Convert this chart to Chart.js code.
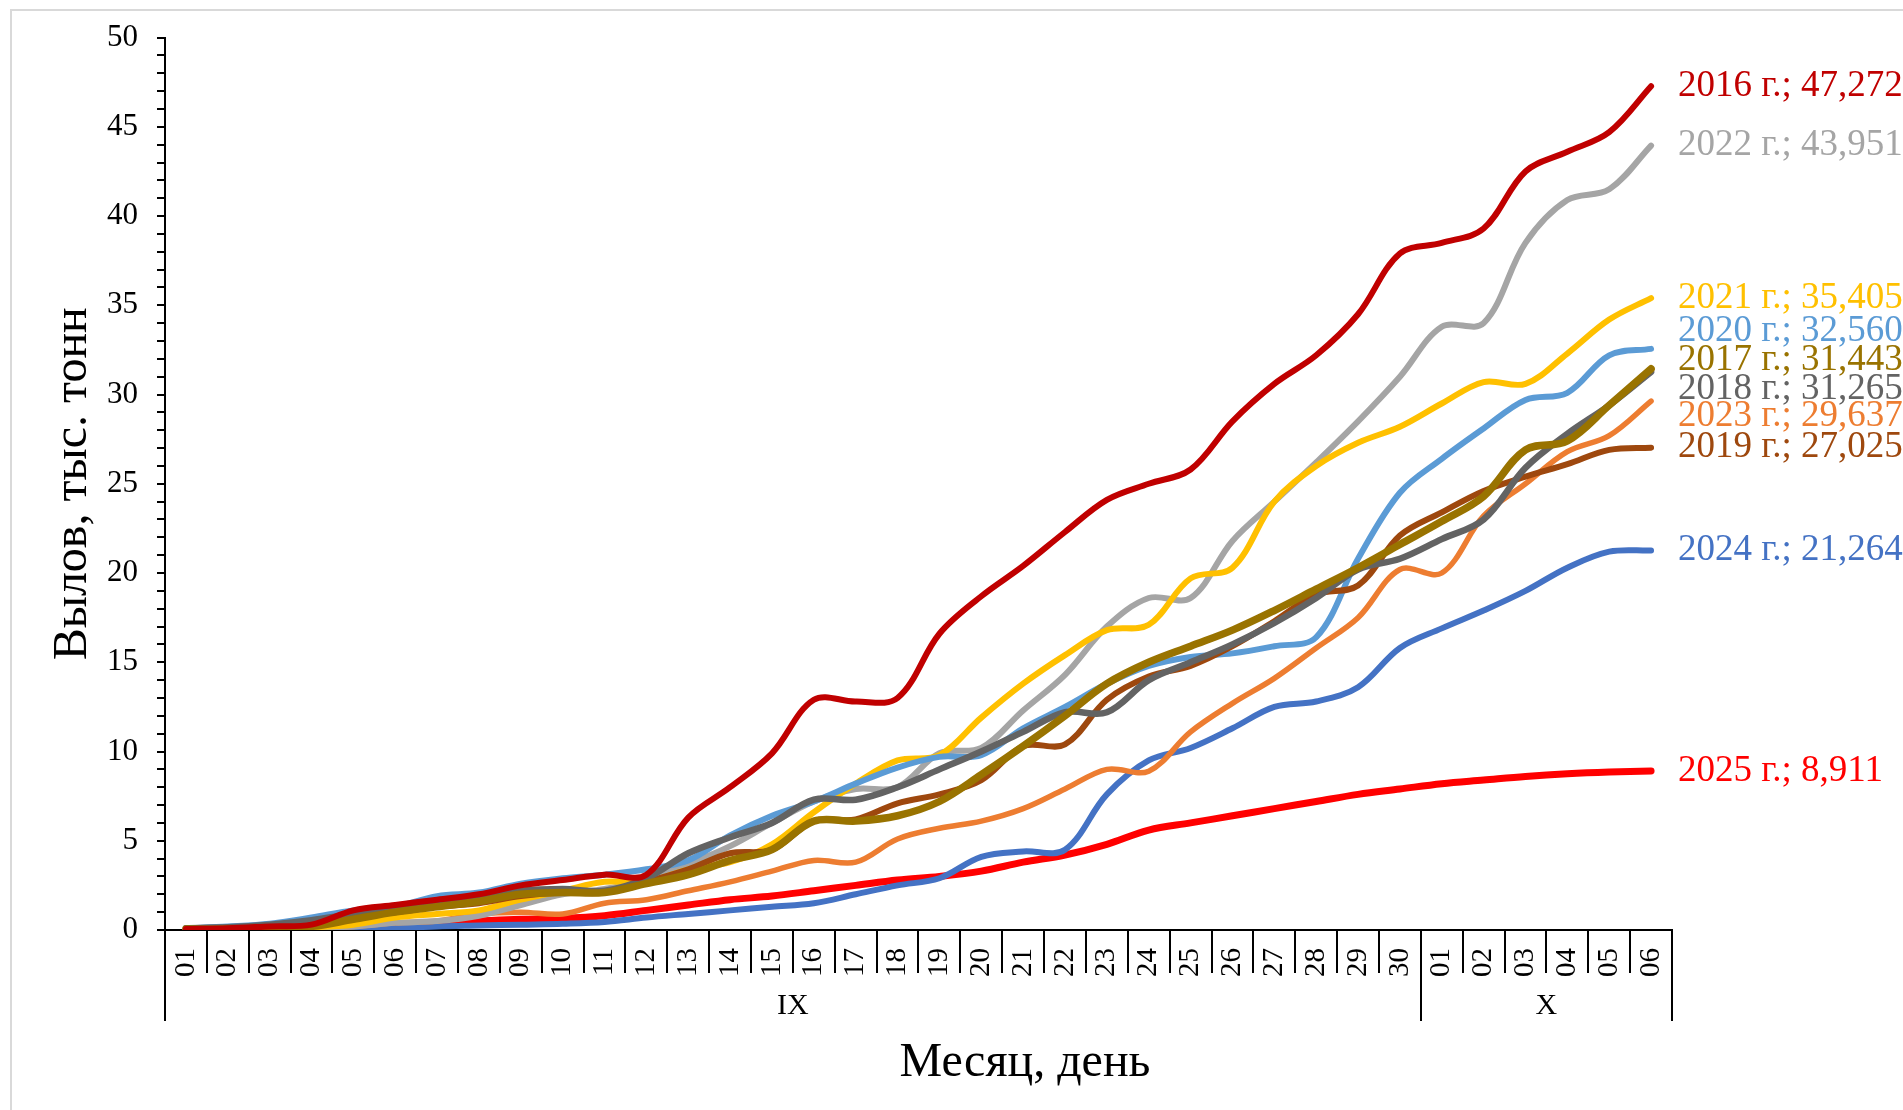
<!DOCTYPE html>
<html>
<head>
<meta charset="utf-8">
<script src="https://cdn.jsdelivr.net/npm/chart.js@4.4.1/dist/chart.umd.min.js"></script>
<style>
html,body{margin:0;padding:0;background:#fff;overflow:hidden}
#wrap{width:1903px;height:1110px;position:relative}
</style>
</head>
<body>
<div id="wrap"><canvas id="c" width="1903" height="1110"></canvas></div>
<script>
// ---------- DATA ----------
const dayLabels = ['01','02','03','04','05','06','07','08','09','10','11','12','13','14','15','16','17','18','19','20','21','22','23','24','25','26','27','28','29','30','01','02','03','04','05','06'];
const monthLabels = ['IX','IX','IX','IX','IX','IX','IX','IX','IX','IX','IX','IX','IX','IX','IX','IX','IX','IX','IX','IX','IX','IX','IX','IX','IX','IX','IX','IX','IX','IX','X','X','X','X','X','X'];
const years = ['2016','2017','2018','2019','2020','2021','2022','2023','2024','2025'];

const y2016 = [0.05,0.1,0.2,0.3,1.1,1.4,1.7,2.0,2.5,2.8,3.1,3.1,6.3,8.0,9.9,12.9,12.8,13.0,16.6,18.7,20.4,22.3,24.1,25.0,25.8,28.5,30.6,32.2,34.5,37.9,38.5,39.3,42.5,43.6,44.7,47.272];
const y2017 = [0.05,0.05,0.1,0.2,0.6,1.0,1.3,1.6,2.0,2.1,2.1,2.6,3.1,3.9,4.5,6.1,6.1,6.4,7.2,8.7,10.3,12.0,13.8,15.0,15.9,16.8,17.9,19.1,20.3,21.6,22.9,24.3,26.9,27.4,29.4,31.443];
const y2018 = [0.1,0.15,0.3,0.55,0.9,1.2,1.5,1.8,2.2,2.3,2.2,2.9,4.3,5.2,6.0,7.3,7.3,8.0,9.0,10.0,11.1,12.2,12.2,14.0,15.0,16.0,17.2,18.6,20.2,20.8,21.9,23.0,25.9,27.8,29.4,31.265];
const y2019 = [0.05,0.1,0.15,0.3,0.8,1.0,1.3,1.5,1.9,2.1,2.1,2.7,3.4,4.3,4.5,6.1,6.2,7.1,7.6,8.4,10.3,10.4,12.9,14.2,14.8,15.9,17.3,18.8,19.3,22.1,23.4,24.6,25.4,26.1,26.9,27.025];
const y2020 = [0.1,0.2,0.35,0.7,1.1,1.3,1.9,2.1,2.6,2.9,3.1,3.4,3.9,5.3,6.4,7.2,8.2,9.1,9.7,9.8,11.3,12.5,13.8,14.8,15.3,15.5,15.9,16.4,20.8,24.5,26.4,28.1,29.7,30.1,32.2,32.560];
const y2021 = [0.0,0.05,0.1,0.15,0.3,0.7,0.9,1.1,1.7,2.2,2.7,2.7,3.4,3.8,4.8,6.6,8.2,9.5,9.8,11.9,13.8,15.4,16.8,17.1,19.7,20.3,24.0,26.0,27.3,28.2,29.5,30.7,30.6,32.3,34.2,35.405];
const y2022 = [0.0,0.0,0.05,0.1,0.2,0.4,0.5,0.8,1.4,2.0,2.3,2.8,3.7,4.7,6.0,7.2,7.9,8.0,9.9,10.2,12.3,14.3,17.0,18.6,18.6,21.8,24.0,26.2,28.5,31.0,33.8,34.0,38.5,40.9,41.5,43.951];
const y2023 = [0.0,0.0,0.05,0.1,0.2,0.4,0.5,0.9,1.0,0.9,1.5,1.7,2.2,2.7,3.3,3.9,3.8,5.1,5.7,6.1,6.8,7.9,9.0,8.9,11.1,12.7,14.1,15.8,17.5,20.2,20.0,23.2,25.0,26.8,27.7,29.637];
const y2024 = [0.0,0.0,0.0,0.02,0.05,0.1,0.2,0.25,0.3,0.35,0.45,0.7,0.9,1.1,1.3,1.5,2.0,2.5,2.9,4.1,4.4,4.5,7.6,9.5,10.2,11.3,12.5,12.8,13.6,15.8,16.9,17.9,19.0,20.3,21.2,21.264];
const y2025 = [0.0,0.02,0.05,0.1,0.2,0.25,0.35,0.5,0.6,0.65,0.8,1.1,1.4,1.7,1.9,2.2,2.5,2.8,3.0,3.3,3.8,4.2,4.8,5.6,6.0,6.4,6.8,7.2,7.6,7.9,8.2,8.4,8.6,8.75,8.85,8.911];

const yTitle = 'Вылов, тыс. тонн';
const xTitle = 'Месяц, день';
const yearSuffix = ' г.; ';

// ---------- STYLE ----------
const seriesValues = [y2016,y2017,y2018,y2019,y2020,y2021,y2022,y2023,y2024,y2025];
const seriesColors = ['#C00000','#997300','#636363','#9E480E','#5B9BD5','#FFC000','#A5A5A5','#ED7D31','#4472C4','#FF0000'];
const seriesWidths = [6,7.5,6.5,6,6,6,6,5.5,6,7];
const SERIF = '"Liberation Serif", "Times New Roman", serif';

const datasets = years.map((yr, i) => ({
  label: yr,
  data: seriesValues[i],
  borderColor: seriesColors[i],
  backgroundColor: seriesColors[i],
  borderWidth: seriesWidths[i],
  pointRadius: 0,
  pointHoverRadius: 0,
  tension: 0.35,
  fill: false,
  borderCapStyle: 'round',
  borderJoinStyle: 'round'
}));

const framePlugin = {
  id: 'frame',
  beforeDraw(chart) {
    const ctx = chart.ctx;
    ctx.save();
    ctx.fillStyle = '#fff';
    ctx.fillRect(0, 0, chart.width, chart.height);
    ctx.strokeStyle = '#D9D9D9';
    ctx.lineWidth = 2;
    ctx.strokeRect(11, 10, chart.width + 50, chart.height + 50);
    ctx.restore();
  }
};

const endLabelPlugin = {
  id: 'endLabels',
  afterDatasetsDraw(chart, args, opts) {
    const ctx = chart.ctx, ys = chart.scales.y;
    ctx.save();
    ctx.font = '37px ' + SERIF;
    ctx.textBaseline = 'middle';
    ctx.textAlign = 'left';
    chart.data.datasets.forEach(ds => {
      const last = ds.data[ds.data.length - 1];
      const y = ys.getPixelForValue(last) + (opts.nudge[ds.label] || 0);
      ctx.fillStyle = ds.borderColor;
      ctx.fillText(ds.label + yearSuffix + last.toFixed(3).replace('.', ','), chart.chartArea.right + 6, y);
    });
    ctx.restore();
  }
};

const multiAxisPlugin = {
  id: 'multiAxis',
  afterDraw(chart, args, opts) {
    const ctx = chart.ctx, xs = chart.scales.x, area = chart.chartArea;
    const n = dayLabels.length;
    const half = (xs.getPixelForValue(1) - xs.getPixelForValue(0)) / 2;
    const edge = i => xs.getPixelForValue(i) - half;
    const y0 = area.bottom;
    ctx.save();
    ctx.strokeStyle = '#000';
    ctx.lineWidth = 2;
    const vline = (x, ya, yb) => { ctx.beginPath(); ctx.moveTo(x, ya); ctx.lineTo(x, yb); ctx.stroke(); };
    for (let i = 0; i <= n; i++) vline(Math.round(edge(i)), y0, y0 + opts.dayDepth);
    ctx.font = '30px ' + SERIF;
    ctx.fillStyle = '#000';
    ctx.textAlign = 'center';
    ctx.textBaseline = 'middle';
    let start = 0;
    for (let i = 1; i <= n; i++) {
      if (i === n || monthLabels[i] !== monthLabels[start]) {
        vline(Math.round(edge(start)), y0, y0 + opts.monthDepth);
        vline(Math.round(edge(i)), y0, y0 + opts.monthDepth);
        ctx.fillText(monthLabels[start], (edge(start) + edge(i)) / 2, y0 + opts.monthLabelY);
        start = i;
      }
    }
    ctx.font = '48px ' + SERIF;
    ctx.fillText(xTitle, opts.titleX, opts.titleY);
    ctx.restore();
  }
};

new Chart(document.getElementById('c'), {
  type: 'line',
  data: { labels: dayLabels, datasets },
  options: {
    responsive: false,
    animation: false,
    devicePixelRatio: 1,
    layout: { padding: { left: 15, right: 231, top: 33, bottom: 0 } },
    plugins: {
      legend: { display: false },
      tooltip: { enabled: false },
      endLabels: { nudge: { '2020': -18, '2017': -9, '2018': 17, '2023': 15 } },
      multiAxis: { dayDepth: 43, monthDepth: 91, monthLabelY: 76, titleX: 1025, titleY: 1063 }
    },
    scales: {
      x: {
        type: 'category',
        offset: true,
        grid: { display: false, drawTicks: false },
        border: { display: true, color: '#000', width: 2 },
        ticks: {
          color: '#000',
          font: { family: SERIF, size: 29 },
          minRotation: 90, maxRotation: 90,
          autoSkip: false,
          padding: 18
        },
        afterFit(scale) { scale.height = 180; }
      },
      y: {
        min: 0, max: 50,
        grid: { display: true, drawOnChartArea: false, drawTicks: true, tickLength: 8, color: '#000', lineWidth: 2 },
        border: { display: true, color: '#000', width: 2 },
        ticks: {
          stepSize: 1,
          autoSkip: false,
          color: '#000',
          padding: 19,
          font: { family: SERIF, size: 31 },
          callback: v => (v % 5 === 0 ? String(v) : '')
        },
        title: {
          display: true,
          text: yTitle,
          color: '#000',
          font: { family: SERIF, size: 48 },
          padding: { top: 30, bottom: 0 }
        },
        afterFit(scale) { scale.width = 150; }
      }
    }
  },
  plugins: [framePlugin, endLabelPlugin, multiAxisPlugin]
});
</script>
</body>
</html>
